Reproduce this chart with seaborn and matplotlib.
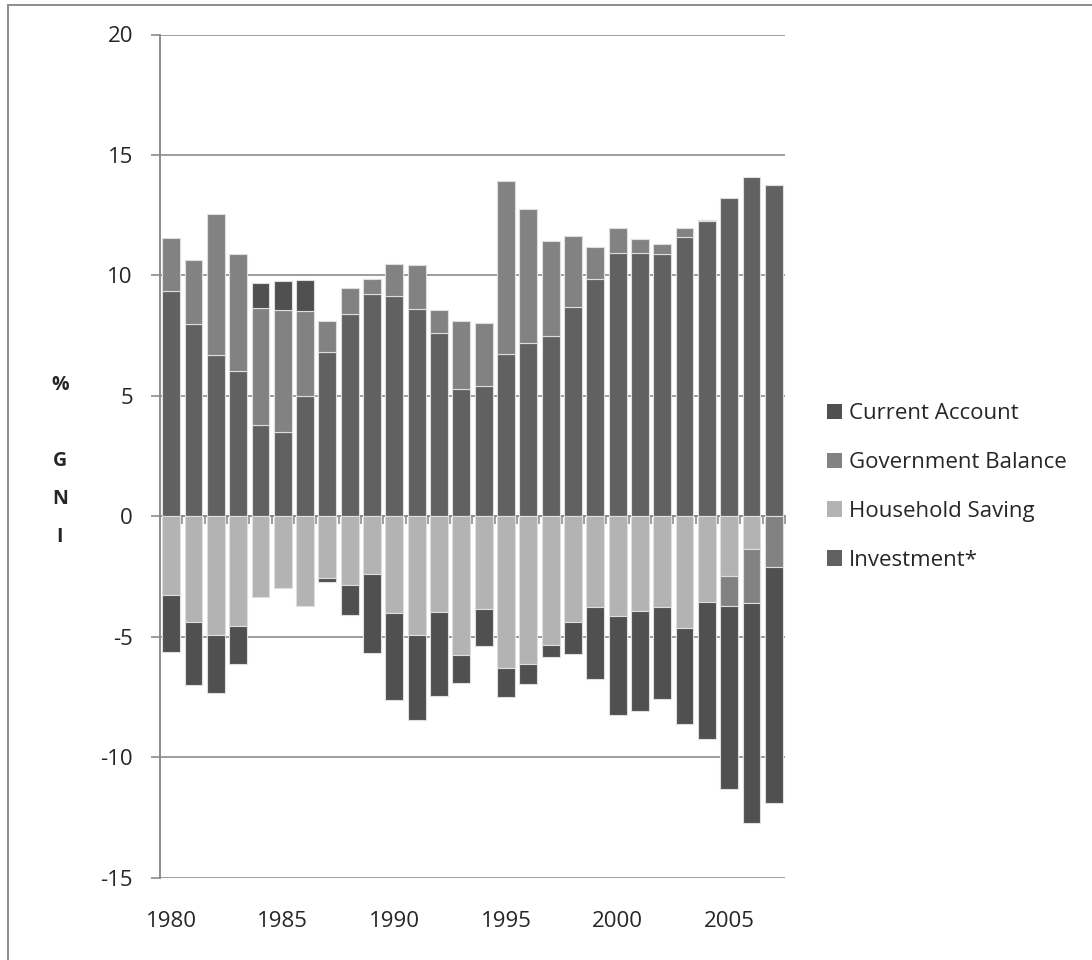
import matplotlib
matplotlib.use("Agg")
import matplotlib.pyplot as plt
from matplotlib.patches import Patch, Rectangle
import numpy as np
import seaborn as sns

# % of GNI, 1980-2007
years = [str(y) for y in range(1980, 2008)]
investment = [9.34, 7.97, 6.68, 6.04, 3.78, 3.51, 4.98, 6.83, 8.40, 9.24,
              9.13, 8.59, 7.62, 5.27, 5.39, 6.72, 7.18, 7.47, 8.67, 9.83,
              10.94, 10.91, 10.87, 11.61, 12.25, 13.20, 14.08, 13.77]
household_saving = [-3.29, -4.41, -4.95, -4.56, -3.37, -3.00, -3.72, -2.56, -2.86, -2.41,
                    -4.00, -4.92, -3.96, -5.78, -3.86, -6.32, -6.13, -5.35, -4.41, -3.78,
                    -4.14, -3.94, -3.76, -4.66, -3.58, -2.50, -1.37, 0.0]
government_balance = [2.21, 2.67, 5.85, 4.83, 4.86, 5.05, 3.55, 1.29, 1.09, 0.59,
                      1.34, 1.84, 0.96, 2.85, 2.63, 7.19, 5.57, 3.94, 2.96, 1.33,
                      1.02, 0.58, 0.43, 0.36, 0.06, -1.21, -2.23, -2.09]
current_account = [-2.33, -2.58, -2.39, -1.59, 1.04, 1.19, 1.28, -0.18, -1.25, -3.26,
                   -3.62, -3.53, -3.51, -1.14, -1.53, -1.18, -0.82, -0.48, -1.33, -2.96,
                   -4.12, -4.16, -3.83, -3.98, -5.69, -7.63, -9.12, -9.83]

year_ticks = ["1980", "1985", "1990", "1995", "2000", "2005"]
y_ticks = [-15, -10, -5, 0, 5, 10, 15, 20]

# stacking order (first series sits next to zero)
series = [
    ("Investment*", investment, "#616161"),
    ("Household Saving", household_saving, "#b3b3b3"),
    ("Government Balance", government_balance, "#828282"),
    ("Current Account", current_account, "#505050"),
]
colors = {name: col for name, _, col in series}
legend_order = ["Current Account", "Government Balance", "Household Saving", "Investment*"]

sns.set_style("white")
plt.rcParams["font.family"] = ["Open Sans", "DejaVu Sans"]
GRID = "#8c8c8c"
FS = 16

fig = plt.figure(figsize=(10.92, 9.6), dpi=100)
ax = fig.add_axes([160 / 1092, 1 - 877.5 / 960, 625 / 1092, 843 / 960])

n = len(years)
pos_base = np.zeros(n)
neg_base = np.zeros(n)
for name, vals, col in series:
    v = np.asarray(vals, dtype=float)
    bottom = np.where(v >= 0, pos_base, neg_base)
    sns.barplot(x=years, y=v, bottom=bottom, color=col, saturation=1,
                width=0.8, errorbar=None, edgecolor="#dedede", linewidth=0.8,
                ax=ax, zorder=3)
    pos_base += np.clip(v, 0, None)
    neg_base += np.clip(v, None, 0)

ax.set_xlim(-0.5, n - 0.5)
ax.set_ylim(-15, 20)
ax.set_yticks(y_ticks)
ax.set_yticklabels([str(t) for t in y_ticks], fontsize=FS)
ax.yaxis.grid(True, color=GRID, linewidth=1.2, zorder=0)
ax.xaxis.grid(False)
ax.set_axisbelow(True)

ax.set_xticks([years.index(t) for t in year_ticks])
ax.set_xticklabels(year_ticks, fontsize=FS)
ax.tick_params(axis="x", length=0, pad=24)
ax.tick_params(axis="y", direction="out", length=6.5, width=1.2, color=GRID, pad=13, left=True)
ax.set_xlabel("")

for s in ["top", "right", "bottom"]:
    ax.spines[s].set_visible(False)
ax.spines["left"].set_color(GRID)
ax.spines["left"].set_linewidth(1.4)

# horizontal category axis through zero with ticks between years
zero_axis = ax.secondary_xaxis(15 / 35)
zero_axis.set_xticks(np.arange(-0.5, n, 1.0))
zero_axis.set_xticklabels([])
zero_axis.tick_params(direction="out", length=6, width=1.2, color=GRID)
zero_axis.spines["bottom"].set_color(GRID)
zero_axis.spines["bottom"].set_linewidth(1.4)
for s in ["top", "left", "right"]:
    zero_axis.spines[s].set_visible(False)

ax.set_ylabel("")
fig.text(60 / 1092, 1 - 461 / 960, "%\n\nG\nN\nI", ha="center", va="center",
         fontsize=14, fontweight="bold", linespacing=2.2)

handles = [Patch(facecolor=colors[k], edgecolor="none") for k in legend_order]
fig.legend(handles, legend_order, loc="center left",
           bbox_to_anchor=(827 / 1092, 1 - 487 / 960), frameon=False,
           fontsize=FS, handlelength=0.68, handleheight=0.68,
           handletextpad=0.3, labelspacing=1.25, borderpad=0, borderaxespad=0)

# chart frame (its right and bottom edges fall outside the canvas)
fig.patches.append(Rectangle((8 / 1092, -10 / 960), 1100 / 1092, 965 / 960,
                             transform=fig.transFigure, fill=False,
                             edgecolor="#8c8c8c", linewidth=1.4))

fig.savefig("out.png", dpi=100, facecolor="white")
